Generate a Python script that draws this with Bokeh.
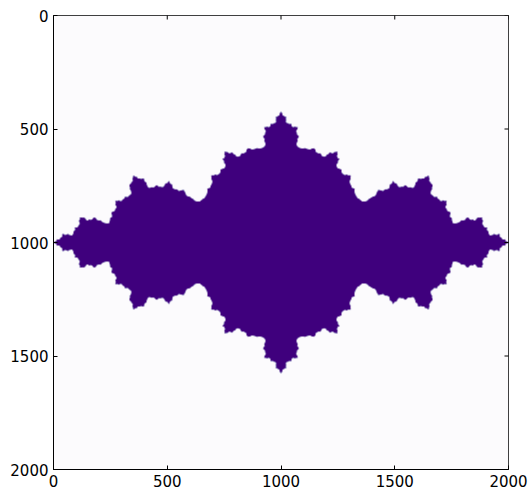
import numpy as np
from bokeh.plotting import figure
from bokeh.models import Range1d, FixedTicker, LinearColorMapper
from bokeh.palettes import Purples256
from bokeh.embed import file_html
from bokeh.resources import INLINE

# Julia set parameters (San Marco fractal)
C_RE = -0.75
C_IM = 0.0
RE_LIM = [-1.5, 1.5]
IM_LIM = [-1.5, 1.5]
MAX_ITER = 10
ESCAPE_R = 2.0
EXTENT = 2000           # image size in axis units (pixels of original)
GRID = 2000             # computation grid
BLOCK = 4               # averaging block for display
TICKS = [0, 500, 1000, 1500, 2000]

c = complex(C_RE, C_IM)
re = np.linspace(RE_LIM[0], RE_LIM[1], GRID)
im = np.linspace(IM_LIM[0], IM_LIM[1], GRID)
z = re[None, :] + 1j * im[:, None]
with np.errstate(all="ignore"):
    for _ in range(MAX_ITER):
        z = z * z + c
    inside = (np.abs(z) <= ESCAPE_R).astype(np.float64)
n = GRID // BLOCK
frac = inside.reshape(n, BLOCK, n, BLOCK).mean(axis=(1, 3))

p = figure(width=528, height=490,
           x_range=Range1d(0, EXTENT), y_range=Range1d(EXTENT, 0),
           output_backend="svg", toolbar_location=None,
           min_border_left=53, min_border_right=20,
           min_border_top=15, min_border_bottom=21,
           background_fill_color="white", border_fill_color="white")

mapper = LinearColorMapper(palette=list(Purples256[::-1]), low=0, high=1)
p.image(image=[frac], x=0, y=0, dw=EXTENT, dh=EXTENT, color_mapper=mapper)

p.xgrid.visible = False
p.ygrid.visible = False
p.outline_line_color = "black"
p.outline_line_width = 1

for ax in [p.xaxis[0], p.yaxis[0]]:
    ax.ticker = FixedTicker(ticks=TICKS)
    ax.major_tick_in = 4
    ax.major_tick_out = 0
    ax.minor_tick_line_color = None
    ax.axis_line_color = "black"
    ax.major_tick_line_color = "black"
    ax.major_label_text_font = "DejaVu Sans"
    ax.major_label_text_font_size = "15px"
    ax.major_label_text_color = "black"
    ax.major_label_standoff = 5

# tick marks on the top and right edges (clipped to the frame, so only the inner half shows)
edge_top = [0] * len(TICKS)
edge_right = [EXTENT] * len(TICKS)
p.scatter(x=TICKS, y=edge_top, marker="dash", size=8, angle=np.pi / 2,
          line_color="black", line_width=1)
p.scatter(x=edge_right, y=TICKS, marker="dash", size=8,
          line_color="black", line_width=1)

open("out.html", "w").write(file_html(p, INLINE))
